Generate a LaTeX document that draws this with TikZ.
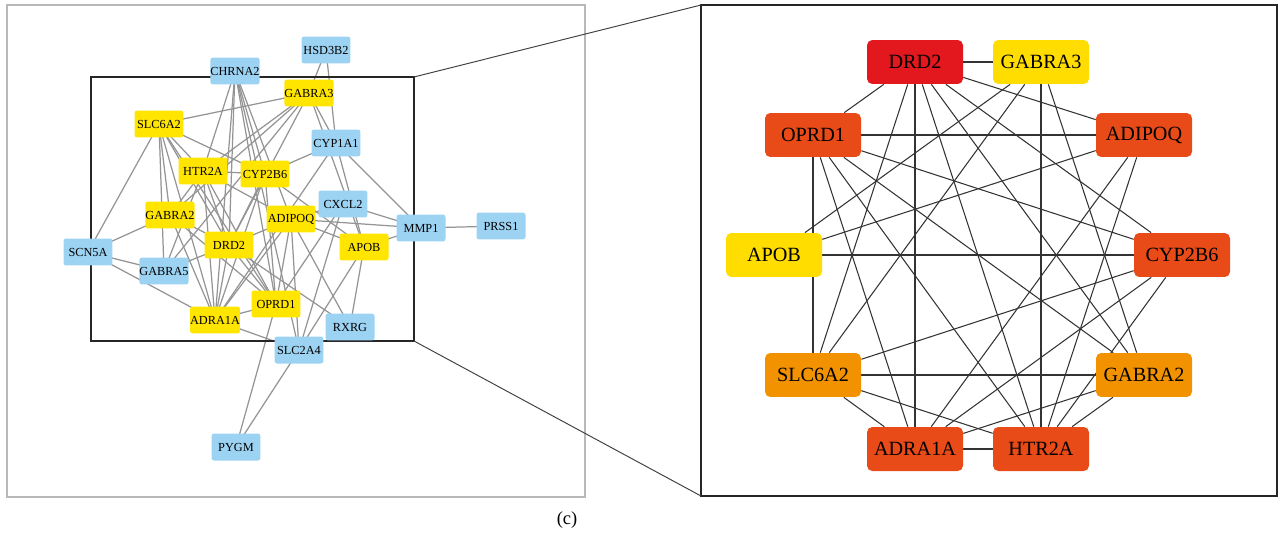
\documentclass[tikz,border=0pt]{standalone}
\usepackage{fontspec}
\setmainfont{Liberation Serif}
\usetikzlibrary{backgrounds}
\definecolor{lblue}{RGB}{157,211,242}
\definecolor{lyellow}{RGB}{255,229,0}
\definecolor{hubred}{RGB}{227,24,30}
\definecolor{hubredorange}{RGB}{232,74,24}
\definecolor{huborange}{RGB}{242,146,0}
\definecolor{hubyellow}{RGB}{255,221,0}
\tikzset{
  lgene/.style={rectangle, rounded corners=1.5pt, minimum width=0.98cm, minimum height=0.54cm, inner sep=0pt, font=\fontsize{7}{8}\selectfont},
  rgene/.style={rectangle, rounded corners=3pt, minimum width=1.92cm, minimum height=0.88cm, inner sep=0pt, font=\fontsize{11.5}{13}\selectfont},
  ledge/.style={draw=black!42, line width=0.7pt},
  redge/.style={draw=black!80, line width=0.6pt},
  outerframe/.style={draw=black!28, line width=1.1pt},
  zoomframe/.style={draw=black!85, line width=1.3pt},
  zoomline/.style={draw=black!75, line width=0.55pt}
}
\begin{document}
\begin{tikzpicture}[x=0.02cm,y=-0.02cm]
  \useasboundingbox (0,0) rectangle (1281,537);
  \draw[outerframe] (7,5) rectangle (585,497);
  \draw[zoomframe] (91,77) rectangle (414,341);
  \draw[zoomframe] (701,5) rectangle (1277,496);
  \coordinate (zoomtr) at (414,77);
  \coordinate (zoombr) at (414,341);
  \coordinate (bigtl) at (701,5);
  \coordinate (bigbl) at (701,496);
  \draw[zoomline] (zoomtr) -- (bigtl);
  \draw[zoomline] (zoombr) -- (bigbl);

  % whole network
  \foreach \n/\x/\y in {CHRNA2/235/71, HSD3B2/326/50, CYP1A1/336/143, CXCL2/343/204, MMP1/421/228,
      PRSS1/501/226, SCN5A/88/252, GABRA5/164/271, RXRG/350/327, SLC2A4/299/350, PYGM/236/447}
    \node[lgene, fill=lblue] (l\n) at (\x,\y) {\n};
  \foreach \n/\x/\y in {GABRA3/309/93, SLC6A2/159/124, HTR2A/203/171, CYP2B6/265/174, GABRA2/170/215,
      ADIPOQ/291/219, DRD2/229/245, APOB/364/247, OPRD1/276/304, ADRA1A/215/320}
    \node[lgene, fill=lyellow] (l\n) at (\x,\y) {\n};

  % hub genes
  \node[rgene, fill=hubred] (rDRD2) at (915,62) {DRD2};
  \foreach \n/\x/\y in {OPRD1/813/135, ADIPOQ/1144/135, CYP2B6/1182/255, ADRA1A/915/449, HTR2A/1041/449}
    \node[rgene, fill=hubredorange] (r\n) at (\x,\y) {\n};
  \foreach \n/\x/\y in {SLC6A2/813/375, GABRA2/1144/375}
    \node[rgene, fill=huborange] (r\n) at (\x,\y) {\n};
  \foreach \n/\x/\y in {GABRA3/1041/62, APOB/774/255}
    \node[rgene, fill=hubyellow] (r\n) at (\x,\y) {\n};

  \node[font=\fontsize{10.5}{12}\selectfont] (caption) at (567,520) {(c)};

  \begin{scope}[on background layer]
    \foreach \a/\b in {DRD2/GABRA3, DRD2/OPRD1, DRD2/ADIPOQ, DRD2/SLC6A2, DRD2/ADRA1A, DRD2/HTR2A,
        DRD2/GABRA2, DRD2/CYP2B6, GABRA3/APOB, GABRA3/SLC6A2, GABRA3/HTR2A, GABRA3/GABRA2,
        OPRD1/ADIPOQ, OPRD1/SLC6A2, OPRD1/CYP2B6, OPRD1/ADRA1A, OPRD1/HTR2A, OPRD1/GABRA2,
        ADIPOQ/APOB, ADIPOQ/ADRA1A, ADIPOQ/HTR2A, APOB/CYP2B6, CYP2B6/SLC6A2, CYP2B6/ADRA1A,
        CYP2B6/HTR2A, SLC6A2/GABRA2, SLC6A2/HTR2A, SLC6A2/ADRA1A, GABRA2/ADRA1A, GABRA2/HTR2A,
        ADRA1A/HTR2A} {
      \draw[ledge] (l\a.center) -- (l\b.center);
      \draw[redge] (r\a) -- (r\b);
    }
    \foreach \a/\b in {CHRNA2/HTR2A, CHRNA2/DRD2, CHRNA2/ADRA1A, CHRNA2/OPRD1, CHRNA2/ADIPOQ,
        CHRNA2/CYP2B6, CHRNA2/SLC2A4, HSD3B2/GABRA3, HSD3B2/CYP1A1, CYP1A1/CYP2B6, CYP1A1/MMP1,
        CYP1A1/APOB, CYP1A1/ADRA1A, CYP1A1/GABRA3, CXCL2/MMP1, CXCL2/ADIPOQ, CXCL2/OPRD1,
        CXCL2/SLC2A4, MMP1/PRSS1, MMP1/ADIPOQ, MMP1/APOB, SCN5A/SLC6A2, SCN5A/GABRA2,
        SCN5A/GABRA5, SCN5A/ADRA1A, GABRA5/DRD2, GABRA5/SLC6A2, GABRA5/HTR2A, GABRA5/GABRA3,
        RXRG/APOB, RXRG/ADIPOQ, RXRG/DRD2, SLC2A4/ADRA1A, SLC2A4/APOB, SLC2A4/ADIPOQ,
        SLC2A4/PYGM, PYGM/OPRD1}
      \draw[ledge] (l\a.center) -- (l\b.center);
  \end{scope}
\end{tikzpicture}
\end{document}
